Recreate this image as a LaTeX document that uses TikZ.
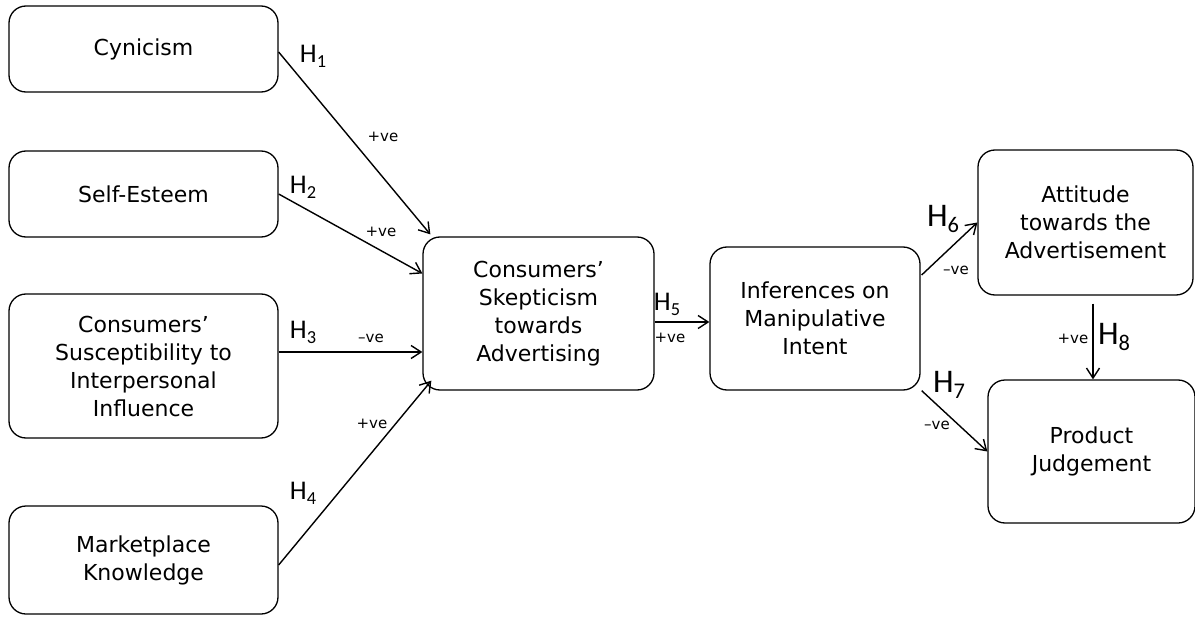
\documentclass[tikz,border=0pt]{standalone}
\usepackage{fontspec}
\setmainfont{DejaVu Sans}
\newfontfamily\hfont{Carlito}
\usetikzlibrary{arrows.meta}
% hypothesis tag: H with a lowered index
\newcommand{\hyptag}[1]{H\raisebox{-0.18em}{\fontsize{0.68em}{0.68em}\selectfont #1}}
\begin{document}
\begin{tikzpicture}[x=1pt,y=-1pt,
  box/.style={draw, line width=1.3pt, rounded corners=17pt, align=center,
    inner sep=0pt, font=\fontsize{22}{28}\selectfont},
  arr/.style={line width=1.4pt, -{Straight Barb[length=10pt,width=13pt,line width=1.4pt]}},
  hyp/.style={font=\hfont\fontsize{27}{27}\selectfont, inner sep=0pt},
  hypbig/.style={font=\hfont\fontsize{33}{33}\selectfont, inner sep=0pt},
  sign/.style={font=\fontsize{15}{15}\selectfont, inner sep=0pt}]
\useasboundingbox (0,0) rectangle (1195,618);

% constructs
\node[box, minimum width=269pt, minimum height=86pt] (cyn) at (143.5,49) {Cynicism};
\node[box, minimum width=269pt, minimum height=86pt] (self) at (143.5,194) {Self-Esteem};
\node[box, minimum width=269pt, minimum height=144pt] (sus) at (143.5,366)
  {Consumers’\\Susceptibility to\\Interpersonal\\Influence};
\node[box, minimum width=269pt, minimum height=108pt] (mkt) at (143.5,560)
  {Marketplace\\Knowledge};
\node[box, minimum width=231pt, minimum height=153pt] (skep) at (538.5,313.5)
  {Consumers’\\Skepticism\\towards\\Advertising};
\node[box, minimum width=210pt, minimum height=143pt] (inf) at (815,318.5)
  {Inferences on\\Manipulative\\Intent};
\node[box, minimum width=215pt, minimum height=145pt] (att) at (1085.5,222.5)
  {Attitude\\towards the\\Advertisement};
\node[box, minimum width=207pt, minimum height=143pt] (prod) at (1091.5,451.5)
  {Product\\Judgement};

% hypothesised paths
\draw[arr] ([yshift=-3pt]cyn.east) -- ([shift={(8pt,2pt)}]skep.north west);
\draw[arr] (self.east) -- ([yshift=40pt]skep.west);
\draw[arr] ([yshift=14pt]sus.east) coordinate (h3s) -- (h3s -| skep.west);
\draw[arr] ([yshift=-5pt]mkt.east) -- ([shift={(9pt,10pt)}]skep.south west);
\draw[arr] ([yshift=-8.5pt]skep.east) coordinate (h5s) -- (h5s -| inf.west);
\draw[arr] ([shift={(1pt,43.5pt)}]inf.east) -- (att.west);
\draw[arr] ([shift={(1pt,0pt)}]inf.south east) -- (prod.west);
\draw[arr] ([shift={(7.5pt,-8pt)}]att.south) coordinate (h8s) -- (h8s |- prod.north);

% hypothesis labels
\node[hyp] (l1) at (313,56) {\hyptag{1}};
\node[hyp] (l2) at (303,187) {\hyptag{2}};
\node[hyp] (l3) at (303,332) {\hyptag{3}};
\node[hyp] (l4) at (303,493) {\hyptag{4}};
\node[hyp] (l5) at (667,304) {\hyptag{5}};
\node[hypbig] (l6) at (943,219) {\hyptag{6}};
\node[hypbig] (l7) at (949,385) {\hyptag{7}};
\node[hypbig] (l8) at (1114,337) {\hyptag{8}};

% direction of effects
\node[sign] (s1) at (383,137) {+ve};
\node[sign] (s2) at (381,232) {+ve};
\node[sign] (s3) at (371,338) {–ve};
\node[sign] (s4) at (372,424) {+ve};
\node[sign] (s5) at (670,338) {+ve};
\node[sign] (s6) at (956,270) {–ve};
\node[sign] (s7) at (937,425) {–ve};
\node[sign] (s8) at (1073,339) {+ve};
\end{tikzpicture}
\end{document}
